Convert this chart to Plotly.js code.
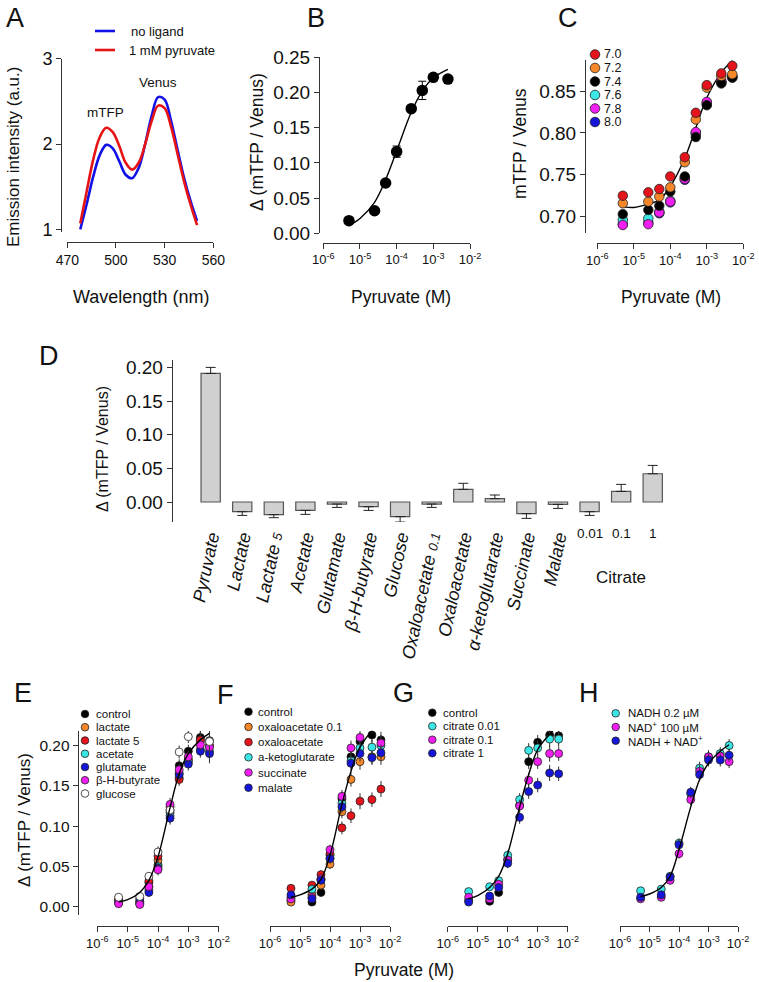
<!DOCTYPE html>
<html>
<head>
<meta charset="utf-8">
<script src="https://cdn.plot.ly/plotly-3.0.1.min.js"></script>
<style>
  html, body { margin: 0; padding: 0; background: #fff; }
  #chart { width: 759px; height: 982px; }
</style>
</head>
<body>
<div id="chart"></div>
<script>
// ---- data ----
// A: emission spectra
const aWavelength = [478, 482, 486, 490, 494, 498, 502, 506, 510, 514, 518, 522, 526, 530, 534, 538, 542, 546, 550];
const aNoLigand = [1.0, 1.3, 1.62, 1.87, 1.99, 1.95, 1.8, 1.64, 1.6, 1.72, 2.0, 2.33, 2.55, 2.52, 2.27, 1.93, 1.6, 1.33, 1.1];
const aPyruvate = [1.07, 1.45, 1.82, 2.08, 2.19, 2.14, 1.98, 1.78, 1.7, 1.78, 2.0, 2.27, 2.45, 2.42, 2.2, 1.88, 1.56, 1.29, 1.05];
const aLegend = ['no ligand', '1 mM pyruvate'];
const aPeakLabels = ['mTFP', 'Venus'];

// pyruvate concentrations (M)
const concX = [5e-6, 2.5e-5, 5e-5, 1e-4, 2.5e-4, 5e-4, 1e-3, 2.5e-3, 5e-3];
const fitX = [5e-6, 1e-5, 2.5e-5, 5e-5, 1e-4, 2.5e-4, 5e-4, 1e-3, 2.5e-3, 5e-3];
const logTicks = [1e-6, 1e-5, 1e-4, 1e-3, 1e-2];
const logTickText = ['10<sup>-6</sup>', '10<sup>-5</sup>', '10<sup>-4</sup>', '10<sup>-3</sup>', '10<sup>-2</sup>'];

// B: dose response
const bConc = [5e-6, 2.5e-5, 5e-5, 1e-4, 2.5e-4, 5e-4, 1e-3, 2.5e-3];
const bValues = [0.018, 0.032, 0.0715, 0.116, 0.177, 0.203, 0.2215, 0.219];
const bErr = [0.002, 0.002, 0.003, 0.008, 0.004, 0.013, 0.004, 0.003];
const bFitX = [5e-6, 1e-5, 2.5e-5, 5e-5, 1e-4, 2.5e-4, 5e-4, 1e-3, 2.5e-3];
const bFit = [0.011, 0.021, 0.044, 0.076, 0.117, 0.172, 0.202, 0.221, 0.233];

// C: pH dependence
const cLabels = ['7.0', '7.2', '7.4', '7.6', '7.8', '8.0'];
const cPh70 = [0.725, 0.729, 0.733, 0.748, 0.771, 0.824, 0.857, 0.871, 0.880];
const cPh72 = [0.716, 0.718, 0.724, 0.735, 0.765, 0.816, 0.854, 0.868, 0.870];
const cPh74 = [0.703, 0.708, 0.713, 0.730, 0.748, 0.795, 0.833, 0.859, 0.866];
const cPh76 = [0.696, 0.698, 0.706, 0.719, 0.746, 0.800, 0.836, 0.861, 0.867];
const cPh78 = [0.690, 0.691, 0.705, 0.718, 0.745, 0.801, 0.837, 0.862, 0.868];
const cPh80 = [0.691, 0.693, 0.704, 0.717, 0.744, 0.799, 0.834, 0.860, 0.866];
const cFit = [0.712, 0.711, 0.715, 0.720, 0.736, 0.770, 0.806, 0.842, 0.872, 0.886];

// D: specificity
const dCategories = ['Pyruvate', 'Lactate', 'Lactate 5', 'Acetate', 'Glutamate', 'β-H-butyrate', 'Glucose',
  'Oxaloacetate 0.1', 'Oxaloacetate', 'α-ketoglutarate', 'Succinate', 'Malate', '0.01', '0.1', '1'];
const dGroupLabel = 'Citrate';
const dValues = [0.191, -0.0144, -0.0188, -0.0124, -0.003, -0.007, -0.0218, -0.003, 0.0188, 0.005, -0.0173, -0.0035, -0.0144, 0.0158, 0.042];
const dErr = [0.009, 0.0055, 0.0045, 0.006, 0.005, 0.0055, 0.008, 0.005, 0.009, 0.0054, 0.007, 0.006, 0.0055, 0.0104, 0.0124];

// E: other metabolites
const eLabels = ['control', 'lactate', 'lactate 5', 'acetate', 'glutamate', 'β-H-butyrate', 'glucose'];
const eControl = [0.008, 0.007, 0.025, 0.052, 0.117, 0.175, 0.193, 0.210, 0.206];
const eLactate = [0.010, 0.006, 0.030, 0.058, 0.120, 0.160, 0.183, 0.205, 0.199];
const eLactate5 = [0.009, 0.005, 0.032, 0.063, 0.124, 0.158, 0.181, 0.207, 0.200];
const eAcetate = [0.006, 0.004, 0.021, 0.050, 0.113, 0.166, 0.180, 0.195, 0.193];
const eGlutamate = [0.005, 0.010, 0.018, 0.048, 0.110, 0.164, 0.177, 0.193, 0.190];
const eButyrate = [0.004, 0.003, 0.025, 0.046, 0.127, 0.170, 0.186, 0.201, 0.198];
const eGlucose = [0.012, 0.013, 0.038, 0.068, 0.120, 0.192, 0.211, 0.219, 0.205];
const eErr = [0.004, 0.004, 0.005, 0.007, 0.008, 0.008, 0.008, 0.008, 0.012];
const eFit = [0.006, 0.009, 0.018, 0.033, 0.062, 0.123, 0.165, 0.190, 0.207, 0.215];

// F: TCA intermediates
const fLabels = ['control', 'oxaloacetate 0.1', 'oxaloacetate', 'a-ketoglutarate', 'succinate', 'malate'];
const fControl = [0.008, 0.006, 0.018, 0.064, 0.134, 0.186, 0.205, 0.213, 0.207];
const fOxalo01 = [0.006, 0.015, 0.027, 0.053, 0.118, 0.158, 0.180, 0.186, 0.186];
const fOxalo = [0.023, 0.027, 0.040, 0.066, 0.098, 0.113, 0.131, 0.133, 0.146];
const fKeto = [0.012, 0.022, 0.034, 0.060, 0.128, 0.181, 0.197, 0.198, 0.200];
const fSuccinate = [0.010, 0.012, 0.035, 0.071, 0.137, 0.197, 0.210, 0.224, 0.203];
const fMalate = [0.015, 0.010, 0.033, 0.060, 0.124, 0.178, 0.190, 0.185, 0.191];
const fErr = [0.004, 0.004, 0.005, 0.006, 0.008, 0.009, 0.010, 0.009, 0.010];
const fFit = [0.012, 0.015, 0.022, 0.034, 0.064, 0.127, 0.168, 0.198, 0.218, 0.228];

// G: citrate
const gLabels = ['control', 'citrate 0.01', 'citrate 0.1', 'citrate 1'];
const gControl = [0.008, 0.007, 0.018, 0.059, 0.126, 0.180, 0.204, 0.213, 0.212];
const gCitrate001 = [0.019, 0.025, 0.0325, 0.064, 0.133, 0.194, 0.197, 0.208, 0.208];
const gCitrate01 = [0.012, 0.010, 0.028, 0.058, 0.125, 0.157, 0.180, 0.190, 0.190];
const gCitrate1 = [0.006, 0.0135, 0.024, 0.054, 0.111, 0.143, 0.151, 0.166, 0.165];
const gErr = [0.004, 0.004, 0.005, 0.006, 0.008, 0.009, 0.009, 0.010, 0.009];
const gFit = [0.010, 0.014, 0.024, 0.038, 0.066, 0.124, 0.164, 0.195, 0.214, 0.226];

// H: NADH / NAD+
const hLabels = ['NADH 0.2 µM', 'NAD<sup>+</sup> 100 µM', 'NADH + NAD<sup>+</sup>'];
const hNadh = [0.020, 0.022, 0.038, 0.079, 0.140, 0.172, 0.186, 0.190, 0.200];
const hNad = [0.010, 0.012, 0.033, 0.066, 0.133, 0.168, 0.186, 0.187, 0.180];
const hBoth = [0.012, 0.015, 0.037, 0.077, 0.142, 0.164, 0.182, 0.182, 0.188];
const hErr = [0.004, 0.004, 0.005, 0.006, 0.007, 0.008, 0.008, 0.008, 0.008];
const hFit = [0.013, 0.016, 0.024, 0.038, 0.071, 0.124, 0.158, 0.178, 0.193, 0.201];

// ---- styling ----
const W = 759, H = 982;
const px = (x) => x / W;
const py = (y) => 1 - y / H;
const fontFamily = '"Liberation Sans", Arial, sans-serif';
const ink = '#111';
const col = {
  black: '#000000', orange: '#f5872b', red: '#e3141b', cyan: '#3be6e6',
  blue: '#1515d9', magenta: '#f01ef0', white: '#ffffff',
};

const traces = [];
const shapes = [];
const annotations = [];

function text(str, x, y, size, extra = {}) {
  annotations.push({
    text: str, xref: 'paper', yref: 'paper', x: px(x), y: py(y), showarrow: false, borderpad: 0,
    xanchor: 'center', yanchor: 'middle', font: { size, color: ink, family: fontFamily }, ...extra,
  });
}

function points(xa, ya, xs, ys, color, size, err) {
  const trace = {
    type: 'scatter', mode: 'markers', x: xs, y: ys, xaxis: xa, yaxis: ya, cliponaxis: false,
    marker: { size, color, line: { color: '#222', width: 0.8 } },
  };
  if (err) trace.error_y = { type: 'data', array: err, color: '#333', thickness: 1, width: 0 };
  traces.push(trace);
}

function fitLine(xa, ya, xs, ys) {
  traces.push({
    type: 'scatter', mode: 'lines', x: xs, y: ys, xaxis: xa, yaxis: ya,
    line: { color: '#000', width: 1.4, shape: 'spline' },
  });
}

function legend(labels, colors, cx, y0, dy, r, textX, size) {
  labels.forEach((label, i) => {
    const cy = y0 + i * dy;
    shapes.push({
      type: 'circle', xref: 'paper', yref: 'paper',
      x0: px(cx - r), x1: px(cx + r), y0: py(cy + r), y1: py(cy - r),
      fillcolor: colors[i], line: { color: '#222', width: 0.8 },
    });
    text(label, textX, cy, size, { xanchor: 'left' });
  });
}

// A
traces.push({ type: 'scatter', mode: 'lines', x: aWavelength, y: aNoLigand, xaxis: 'x', yaxis: 'y',
  line: { color: '#1212e6', width: 2.6, shape: 'spline' } });
traces.push({ type: 'scatter', mode: 'lines', x: aWavelength, y: aPyruvate, xaxis: 'x', yaxis: 'y',
  line: { color: '#e61414', width: 2.6, shape: 'spline' } });
[['#1212e6', 31], ['#e61414', 50]].forEach(([c, y]) => {
  shapes.push({ type: 'line', xref: 'paper', yref: 'paper', x0: px(95), x1: px(115), y0: py(y), y1: py(y),
    line: { color: c, width: 2.6 } });
});
text(aLegend[0], 130, 31, 13, { xanchor: 'left' });
text(aLegend[1], 127.5, 50, 13, { xanchor: 'left' });
text(aPeakLabels[0], 106, 112.5, 13.5);
text(aPeakLabels[1], 158, 82, 13.5);

// B
traces.push({
  type: 'scatter', mode: 'markers', x: bConc, y: bValues, xaxis: 'x2', yaxis: 'y2', cliponaxis: false,
  marker: { size: 11.5, color: '#000' },
  error_y: { type: 'data', array: bErr, color: '#000', thickness: 1, width: 4 },
});
fitLine('x2', 'y2', bFitX, bFit);

// C (drawn so the upper pH series sit underneath)
const cSeries = [cPh70, cPh72, cPh74, cPh76, cPh78, cPh80];
const cColors = [col.red, col.orange, col.black, col.cyan, col.magenta, col.blue];
fitLine('x3', 'y3', fitX, cFit);
[5, 3, 4, 2, 1, 0].forEach((i) => points('x3', 'y3', concX, cSeries[i], cColors[i], 9.5));
legend(cLabels, cColors, 595, 54.5, 13.5, 4.8, 603, 12.5);

// D
const dIndex = dCategories.map((_, i) => i);
traces.push({
  type: 'bar', x: dIndex, y: dValues, xaxis: 'x4', yaxis: 'y4', width: 0.61,
  marker: { color: '#d0d0d0', line: { color: '#555', width: 1.2 } },
  error_y: {
    type: 'data', symmetric: false,
    array: dValues.map((v, i) => (v > 0 ? dErr[i] : 0)),
    arrayminus: dValues.map((v, i) => (v < 0 ? dErr[i] : 0)),
    color: '#222', thickness: 1, width: 5,
  },
});
const dTickText = dCategories.slice(0, 12).map((c) => c.replace(/ ([0-9.]+)$/, ' <span style="font-size:13px">$1</span>'));
dCategories.slice(12).forEach((c, k) => {
  annotations.push({ text: c, xref: 'x4', yref: 'paper', x: 12 + k, y: py(533), showarrow: false,
    xanchor: 'center', yanchor: 'middle', font: { size: 13.5, color: ink, family: fontFamily } });
});
annotations.push({ text: dGroupLabel, xref: 'x4', yref: 'paper', x: 13, y: py(577), showarrow: false,
  xanchor: 'center', yanchor: 'middle', font: { size: 17, color: ink, family: fontFamily } });

// E
const eSeries = [eControl, eLactate, eLactate5, eAcetate, eGlutamate, eButyrate, eGlucose];
const eColors = [col.black, col.orange, col.red, col.cyan, col.blue, col.magenta, col.white];
eSeries.forEach((ys, i) => points('x5', 'y5', concX, ys, eColors[i], 8, eErr));
fitLine('x5', 'y5', fitX, eFit);
legend(eLabels, eColors, 85, 714, 13.25, 3.8, 94.5, 11.5);

// F
const fSeries = [fControl, fOxalo01, fOxalo, fKeto, fSuccinate, fMalate];
const fColors = [col.black, col.orange, col.red, col.cyan, col.magenta, col.blue];
fSeries.forEach((ys, i) => points('x6', 'y5', concX, ys, fColors[i], 8, fErr));
fitLine('x6', 'y5', fitX, fFit);
legend(fLabels, fColors, 248.5, 711.7, 15.2, 3.8, 256.5, 11.5);

// G
const gSeries = [gControl, gCitrate001, gCitrate01, gCitrate1];
const gColors = [col.black, col.cyan, col.magenta, col.blue];
gSeries.forEach((ys, i) => points('x7', 'y5', concX, ys, gColors[i], 8, gErr));
fitLine('x7', 'y5', fitX, gFit);
legend(gLabels, gColors, 432.3, 712.7, 13.5, 3.8, 441.5, 11.5);

// H
const hSeries = [hNadh, hNad, hBoth];
const hColors = [col.cyan, col.magenta, col.blue];
hSeries.forEach((ys, i) => points('x8', 'y5', concX, ys, hColors[i], 8, hErr));
fitLine('x8', 'y5', fitX, hFit);
legend(hLabels, hColors, 615.7, 713.3, 13.7, 3.8, 626.5, 11.5);

// panel letters and axis titles
[['A', 15, 18], ['B', 316, 18], ['C', 568, 18], ['D', 49, 356],
 ['E', 23, 693], ['F', 225, 695], ['G', 403, 693], ['H', 589, 693]].forEach(([l, x, y]) => text(l, x, y, 27));
text('Emission intensity (a.u.)', 13, 157, 17, { textangle: -90 });
text('Wavelength (nm)', 141, 297, 18);
text('Δ (mTFP / Venus)', 257, 142, 17.5, { textangle: -90 });
text('Pyruvate (M)', 401, 297, 17.5);
text('mTFP / Venus', 520, 144, 17.5, { textangle: -90 });
text('Pyruvate (M)', 671, 297, 17.5);
text('Δ (mTFP / Venus)', 102, 449, 16, { textangle: -90 });
text('Δ (mTFP / Venus)', 24, 820, 17, { textangle: -90 });
text('Pyruvate (M)', 404, 970, 17.5);

// ---- axes ----
const axisBase = {
  showline: true, linecolor: '#333', linewidth: 1, ticks: 'outside', ticklen: 5, tickwidth: 1,
  tickcolor: '#333', showgrid: false, zeroline: false, anchor: 'free', fixedrange: true,
  tickfont: { family: fontFamily, color: ink, size: 14 },
};
function xAxisAt(left, right, yLine, extra) {
  return { ...axisBase, domain: [px(left), px(right)], position: py(yLine), ...extra };
}
function yAxisAt(top, bottom, xLine, extra) {
  return { ...axisBase, domain: [py(bottom), py(top)], position: px(xLine), ...extra };
}
const logX = { type: 'log', range: [-6, -2], tickvals: logTicks, ticktext: logTickText,
  tickfont: { family: fontFamily, color: ink, size: 13 } };
const tf = (size) => ({ family: fontFamily, color: ink, size });

const layout = {
  width: W, height: H, margin: { l: 0, r: 0, t: 0, b: 0 },
  paper_bgcolor: '#fff', plot_bgcolor: 'rgba(0,0,0,0)', showlegend: false,
  font: { family: fontFamily, color: ink },
  xaxis: xAxisAt(67.3, 213.3, 242, { range: [470, 560], tickvals: [470, 500, 530, 560], tickfont: tf(14) }),
  yaxis: yAxisAt(58.7, 231.9, 61, { range: [0.97, 3], tickvals: [1, 2, 3], tickfont: tf(18) }),
  xaxis2: xAxisAt(323.3, 470, 242.7, logX),
  yaxis2: yAxisAt(57.3, 233.3, 319, { range: [0, 0.25], tickvals: [0, 0.05, 0.1, 0.15, 0.2, 0.25], tickformat: '.2f', tickfont: tf(19) }),
  xaxis3: xAxisAt(597.3, 743.3, 243.3, logX),
  yaxis3: yAxisAt(60, 233, 585, { range: [0.6805, 0.887], tickvals: [0.7, 0.75, 0.8, 0.85], tickformat: '.2f', tickfont: tf(19) }),
  xaxis4: xAxisAt(185.4, 678, 522, {
    range: [-0.8, 14.8], showline: false, ticks: '', tickvals: dIndex.slice(0, 12), ticktext: dTickText,
    tickangle: -78, tickfont: { family: fontFamily, color: ink, size: 18, style: 'italic' },
  }),
  yaxis4: yAxisAt(360, 522, 171.7, { range: [-0.0297, 0.211], tickvals: [0, 0.05, 0.1, 0.15, 0.2], tickformat: '.2f', tickfont: tf(19) }),
  xaxis5: xAxisAt(97.4, 218.6, 926, logX),
  yaxis5: yAxisAt(731, 915, 77.7, { range: [-0.010, 0.218], tickvals: [0, 0.05, 0.1, 0.15, 0.2], tickformat: '.2f', tickfont: tf(15.5) }),
  xaxis6: xAxisAt(270, 390, 926, logX),
  xaxis7: xAxisAt(447.7, 567.7, 926, logX),
  xaxis8: xAxisAt(620, 738, 926, logX),
  shapes,
  annotations,
};

Plotly.newPlot('chart', traces, layout, { staticPlot: true });
</script>
</body>
</html>
